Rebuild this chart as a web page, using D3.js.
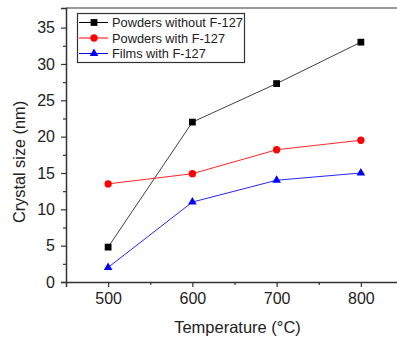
<!DOCTYPE html>
<html>
<head>
<meta charset="utf-8">
<script src="https://cdn.jsdelivr.net/npm/d3@7"></script>
<style>
  html, body { margin: 0; padding: 0; background: #fff; }
  svg { display: block; font-family: Arial, "Liberation Sans", sans-serif; }
</style>
</head>
<body>
<svg id="chart" width="397" height="340"></svg>
<script>
// Crystal size versus calcination temperature
const temperatures = [500, 600, 700, 800];
const powdersWithout = [4.8, 22.0, 27.3, 33.0];
const powdersWith = [13.5, 14.9, 18.2, 19.5];
const filmsWith = [2.0, 11.0, 14.0, 15.0];
const seriesNames = ["Powders without F-127", "Powders with F-127", "Films with F-127"];
const xTicks = [500, 600, 700, 800];
const yTicks = [0, 5, 10, 15, 20, 25, 30, 35];

const series = [
  { name: seriesNames[0], values: powdersWithout, color: "#000000", symbol: d3.symbolSquare, size: 46 },
  { name: seriesNames[1], values: powdersWith, color: "#ff0000", symbol: d3.symbolCircle, size: 42 },
  { name: seriesNames[2], values: filmsWith, color: "#0000ff", symbol: d3.symbolTriangle, size: 32 }
];

const svg = d3.select("#chart");
const plotLeft = 66, plotRight = 403, plotTop = 8, plotBottom = 282;

const x = d3.scaleLinear().domain([450, 850]).range([plotLeft, plotRight]);
const y = d3.scaleLinear().domain([0, 37.7]).range([plotBottom, plotTop]);

const axisColor = "#333";
const textColor = "#222";

// frame (top and right edges)
svg.append("path")
  .attr("d", `M${plotLeft},${plotTop}H${plotRight}V${plotBottom}`)
  .attr("fill", "none").attr("stroke", axisColor).attr("stroke-width", 1.2);

// x axis
svg.append("g").attr("transform", `translate(0,${plotBottom})`)
  .call(d3.axisBottom(x).tickValues(xTicks).tickSize(5).tickPadding(6).tickFormat(d3.format("d")));
svg.append("g").attr("transform", `translate(0,${plotBottom})`)
  .call(d3.axisBottom(x).tickValues([550, 650, 750]).tickSize(3).tickFormat(""))
  .call(g => g.select(".domain").remove());

// y axis
svg.append("g").attr("transform", `translate(${plotLeft},0)`)
  .call(d3.axisLeft(y).tickValues(yTicks).tickSize(5).tickPadding(6).tickFormat(d3.format("d")));
svg.append("g").attr("transform", `translate(${plotLeft},0)`)
  .call(d3.axisLeft(y).tickValues(d3.range(2.5, 37.5, 5)).tickSize(3).tickFormat(""))
  .call(g => g.select(".domain").remove());

svg.selectAll(".domain").attr("stroke", axisColor).attr("stroke-width", 1.5);
svg.selectAll(".tick line").attr("stroke", axisColor).attr("stroke-width", 1.2);
svg.selectAll(".tick text").attr("font-size", 16).attr("fill", textColor)
  .attr("font-family", "Arial, 'Liberation Sans', sans-serif");

// axis titles
svg.append("text")
  .attr("x", (x(500) + x(800)) / 2 + 3).attr("y", 333)
  .attr("text-anchor", "middle").attr("font-size", 16.5).attr("fill", textColor)
  .text("Temperature (°C)");
svg.append("text")
  .attr("transform", "translate(25,162) rotate(-90)")
  .attr("text-anchor", "middle").attr("font-size", 16.3).attr("fill", textColor)
  .text("Crystal size (nm)");

// lines and markers
const line = d3.line().x((d, i) => x(temperatures[i])).y(d => y(d));
series.forEach(s => {
  svg.append("path").datum(s.values)
    .attr("d", line).attr("fill", "none")
    .attr("stroke", s.color).attr("stroke-width", 1).attr("stroke-opacity", s.color === "#000000" ? 0.75 : 0.85);
  svg.append("g").selectAll("path").data(s.values).join("path")
    .attr("transform", (d, i) => `translate(${x(temperatures[i])},${y(d)})`)
    .attr("d", d3.symbol().type(s.symbol).size(s.size))
    .attr("fill", s.color);
});

// legend
const legend = svg.append("g");
legend.append("rect")
  .attr("x", 77.5).attr("y", 13.5).attr("width", 167).attr("height", 49)
  .attr("fill", "#fff").attr("stroke", axisColor).attr("stroke-width", 1.2);
series.forEach((s, i) => {
  const ly = 22.5 + i * 15.5;
  legend.append("line").attr("x1", 79).attr("x2", 108).attr("y1", ly).attr("y2", ly)
    .attr("stroke", s.color).attr("stroke-width", 1);
  legend.append("path").attr("transform", `translate(94,${ly})`)
    .attr("d", d3.symbol().type(s.symbol).size(s.size)).attr("fill", s.color);
  legend.append("text").attr("x", 112).attr("y", ly + 4.6)
    .attr("font-size", 12.8).attr("fill", textColor).text(s.name);
});
</script>
</body>
</html>
